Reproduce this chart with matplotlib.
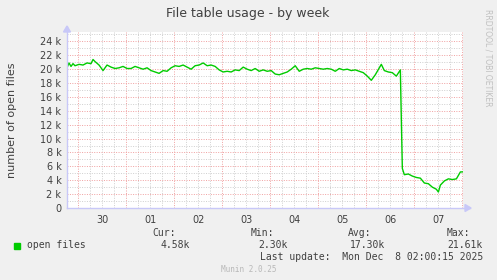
import matplotlib

matplotlib.use("Agg")
import matplotlib.pyplot as plt


# hours since Nov 30 00:00, value in thousands of open files
HOURS = [
    -5.5, -4.5, -3.5, -2.5, -1.5, 0.5, 2.5, 4.5, 6.5, 7.5, 8.5, 10.5, 12.5, 14.5, 16.5,
    18.5, 20.5, 22.5, 24.5, 26.5, 28.5, 30.5, 32.5, 34.5, 36.5, 38.5, 40.5,
    42.5, 44.5, 46.5, 48.5, 50.5, 52.5, 54.5, 56.5, 58.5, 60.5, 62.5, 64.5,
    66.5, 68.5, 70.5, 72.5, 74.5, 76.5, 78.5, 80.5, 82.5, 84.5, 86.5, 88.5,
    90.5, 92.5, 94.5, 96.5, 98.5, 100.5, 102.5, 104.5, 106.5, 108.5, 110.5,
    112.5, 114.5, 116.5, 118.5, 120.5, 122.5, 124.5, 126.5, 128.5, 130.5,
    132.5, 134.5, 136.5, 138.5, 140.5, 142.5, 144.5, 146.5, 148.5, 150.5,
    151.5, 153.0, 155.0, 157.0, 159.0, 161.0, 162.0, 163.0, 165.0, 167.0,
    169.0, 171.0, 173.0, 175.0, 177.0, 179.0, 180.0, 181.0, 183.0, 185.0,
    187.0, 189.0, 191.0, 192.5,
]
OPEN_FILES_K = [
    20.2, 20.9, 20.4, 20.8, 20.5, 20.7, 20.6, 20.9, 20.8, 21.4, 21.1, 20.6, 19.8, 20.6, 20.3,
    20.1, 20.2, 20.4, 20.1, 20.1, 20.4, 20.2, 20.0, 20.2, 19.8, 19.6, 19.4,
    19.8, 19.7, 20.2, 20.5, 20.4, 20.6, 20.3, 20.0, 20.5, 20.6, 20.9, 20.5,
    20.6, 20.4, 19.9, 19.6, 19.7, 19.6, 19.9, 19.8, 20.3, 20.0, 19.8, 20.1,
    19.7, 19.9, 19.7, 19.8, 19.3, 19.2, 19.4, 19.6, 20.0, 20.5, 19.7,
    20.0, 20.1, 20.0, 20.2, 20.1, 20.0, 20.1, 20.0, 19.7, 20.1,
    19.9, 20.0, 19.8, 19.9, 19.7, 19.5, 19.0, 18.4, 19.2, 20.2,
    20.7, 19.8, 19.6, 19.5, 19.0, 19.9, 5.7, 4.8, 4.9, 4.6,
    4.4, 4.3, 3.6, 3.5, 3.0, 2.7, 2.3, 3.3, 3.9, 4.2,
    4.1, 4.2, 5.2, 5.2,
]
DAY_LABELS = ["30", "01", "02", "03", "04", "05", "06", "07"]
Y_TICKS = list(range(0, 25, 2))
Y_LABELS = ["0"] + [f"{v} k" for v in Y_TICKS[1:]]

STATS_HEAD = ["Cur:", "Min:", "Avg:", "Max:"]
STATS_VALS = ["4.58k", "2.30k", "17.30k", "21.61k"]

W, H = 497, 280
X0, X1 = -5.5, 192.3
Y0, Y1 = 0, 25.36


def px(x, y):
    return x / W, 1 - y / H


fig = plt.figure(figsize=(W / 100, H / 100), dpi=100, facecolor="#F0F0F0")
left, right, top, bottom = 67, 463, 32, 208
ax = fig.add_axes([left / W, 1 - bottom / H, (right - left) / W, (bottom - top) / H])
ax.set_facecolor("white")
ax.set_xlim(X0, X1)
ax.set_ylim(Y0, Y1)
for s in ax.spines.values():
    s.set_visible(False)

dots = (0, (1, 1.5))
# grid: minor every 6h / 1k, major at midnight / 2k
for h in range(-6, 193, 6):
    if X0 < h < X1:
        if h % 24 == 0:
            ax.axvline(h, color="#F0A0A0", lw=0.7, linestyle=dots, zorder=1)
        else:
            ax.axvline(h, color="#CFCFCF", lw=0.7, linestyle=dots, zorder=1)
for v in range(1, 26):
    if v % 2 == 0:
        ax.axhline(v, color="#F0A0A0", lw=0.7, linestyle=dots, zorder=1)
    else:
        ax.axhline(v, color="#CFCFCF", lw=0.7, linestyle=dots, zorder=1)

ax.plot(HOURS, OPEN_FILES_K, color="#00CC00", lw=1.0, zorder=3)

ax.set_xticks([12 + 24 * i for i in range(len(DAY_LABELS))])
ax.set_xticklabels(DAY_LABELS)
ax.set_yticks(Y_TICKS)
ax.set_yticklabels(Y_LABELS)
ax.tick_params(axis="both", length=0, labelsize=7, colors="#404040", pad=4)
ax.tick_params(axis="x", pad=5)

# axis lines with arrows
axis_col = "#C8C8F8"
fig.add_artist(plt.Line2D([left / W, 470 / W], [1 - bottom / H] * 2, color=axis_col, lw=1.0))
fig.add_artist(plt.Line2D([left / W] * 2, [1 - bottom / H, 1 - 27 / H], color=axis_col, lw=1.0))
fig.patches.append(plt.Polygon([px(465, 204.5), px(471, 208), px(465, 211.5)],
                               closed=True, color=axis_col, transform=fig.transFigure, figure=fig))
fig.patches.append(plt.Polygon([px(63.5, 32), px(67, 26), px(70.5, 32)],
                               closed=True, color=axis_col, transform=fig.transFigure, figure=fig))

fig.text(*px(248, 13), "File table usage - by week", ha="center", va="center",
         fontsize=9, color="#404040")
fig.text(*px(12, 120), "number of open files", rotation=90, ha="center", va="center",
         fontsize=8, color="#404040")
fig.text(*px(488, 58), "RRDTOOL / TOBI OETIKER", rotation=270, ha="center", va="center",
         fontsize=5.5, color="#C0C0C0")

mono = "DejaVu Sans Mono"
fig.patches.append(plt.Rectangle(px(14, 249), 6 / W, 6 / H, color="#00CC00",
                                 transform=fig.transFigure, figure=fig))
fig.text(*px(27, 245), "open files", ha="left", va="center", family=mono,
         fontsize=7, color="#404040")
head_x = [176, 274, 371, 470]
val_x = [190, 288, 385, 483]
for hx, vx, hd, vl in zip(head_x, val_x, STATS_HEAD, STATS_VALS):
    fig.text(*px(hx, 233.5), hd, ha="right", va="center", family=mono, fontsize=7, color="#404040")
    fig.text(*px(vx, 245.5), vl, ha="right", va="center", family=mono, fontsize=7, color="#404040")
fig.text(*px(483, 257.5), "Last update:  Mon Dec  8 02:00:15 2025", ha="right", va="center",
         family=mono, fontsize=7, color="#404040")
fig.text(*px(249, 269.5), "Munin 2.0.25", ha="center", va="center", family=mono,
         fontsize=5.5, color="#B8B8B8")

fig.savefig("out.png", dpi=100, facecolor=fig.get_facecolor())
